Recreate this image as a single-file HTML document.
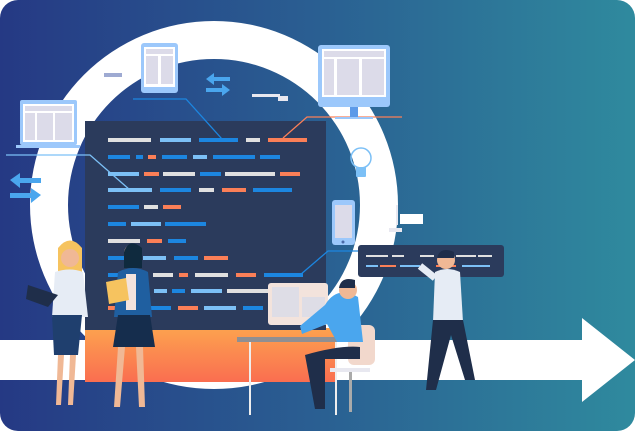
<!DOCTYPE html>
<html><head><meta charset="utf-8"><style>html,body{margin:0;padding:0;background:#fff}svg{display:block}</style></head>
<body>
<svg width="635" height="431" viewBox="0 0 635 431" xmlns="http://www.w3.org/2000/svg">
<defs>
<linearGradient id="bg" x1="0" x2="1" y1="0" y2="0"><stop offset="0" stop-color="#253984"/><stop offset="0.5" stop-color="#2a5f92"/><stop offset="1" stop-color="#2f8a9e"/></linearGradient>
<linearGradient id="or" x1="0" x2="0" y1="0" y2="1"><stop offset="0" stop-color="#fca24f"/><stop offset="1" stop-color="#fa6e50"/></linearGradient>
<clipPath id="c"><rect width="635" height="431" rx="18"/></clipPath>
</defs>
<g clip-path="url(#c)">
<rect width="635" height="431" fill="url(#bg)"/>
<path fill="#fff" fill-rule="evenodd" d="M30,205a184,184 0 1,0 368,0a184,184 0 1,0 -368,0zM68,205a146,146 0 1,0 292,0a146,146 0 1,0 -292,0z"/>
<!-- arrow band -->
<path fill="#fff" d="M0,340H582V318L635,360L582,402V380H0Z"/>
<!-- orange base -->
<rect x="85" y="328" width="250" height="54" fill="url(#or)"/>
<!-- code panel -->
<rect x="85" y="121" width="241" height="209" fill="#2b3b5c"/>
<g stroke-width="4">
<g stroke="#e0e0e0"><path d="M108 140h43M246 140h14M163 174h32M225 174h50M199 190h15M144 207h14M108 241h32M153 275h20M195 275h33M108 291h12M227 291h43"/></g>
<g stroke="#7cc0f6"><path d="M160 140h31M193 157h14M108 174h31M108 190h44M131 224h30M143 258h23M154 291h13M191 291h31M204 308h32"/></g>
<g stroke="#1c86e0"><path d="M199 140h39M108 157h22M136 157h7M162 157h25M213 157h42M260 157h20M200 174h21M160 190h31M253 190h39M108 207h31M108 224h18M165 224h41M168 241h18M108 258h17M174 258h24M108 275h12M264 275h39M172 291h13M149 308h22M243 308h20"/></g>
<g stroke="#fb7f57"><path d="M268 140h39M148 157h8M144 174h15M280 174h20M222 190h24M163 207h18M147 241h15M204 258h24M179 275h9M236 275h20M108 308h14M178 308h20"/></g>
</g>
<!-- connector lines -->
<g fill="none" stroke-width="1.3">
<path d="M133 99h53l36 40" stroke="#1c86e0"/>
<path d="M6 155h84l40 35" stroke="#7cc0f6"/>
<path d="M283 138l24-21h95" stroke="#fb7f57"/>
<path d="M300 275l28-24h30" stroke="#1c86e0"/>
</g>
<!-- tablet -->
<rect x="141" y="43" width="37" height="50" rx="3" fill="#9cc8fb"/><rect x="144" y="47" width="31" height="40" fill="#fff"/>
<rect x="146" y="49" width="27" height="5" fill="#dcdbe9"/><rect x="146" y="56" width="12" height="28" fill="#dcdbe9"/><rect x="161" y="56" width="12" height="28" fill="#dcdbe9"/>
<rect x="104" y="73" width="18" height="4" fill="#9eaad2"/>
<!-- monitor -->
<rect x="318" y="45" width="72" height="62" rx="3" fill="#9cc8fb"/><rect x="322" y="49" width="64" height="48" fill="#fff"/>
<rect x="324" y="51" width="60" height="6" fill="#dcdbe9"/><rect x="324" y="59" width="10" height="36" fill="#dcdbe9"/><rect x="337" y="59" width="22" height="36" fill="#dcdbe9"/><rect x="362" y="59" width="22" height="36" fill="#dcdbe9"/>
<rect x="350" y="107" width="8" height="10" fill="#5d9ae8"/><rect x="335" y="117" width="38" height="2" fill="#9cc8fb"/>
<!-- laptop -->
<rect x="20" y="100" width="57" height="45" rx="2" fill="#9cc8fb"/><rect x="23" y="104" width="51" height="38" fill="#fff"/>
<rect x="25" y="106" width="47" height="5" fill="#dcdbe9"/><rect x="25" y="113" width="10" height="27" fill="#dcdbe9"/><rect x="37" y="113" width="16" height="27" fill="#dcdbe9"/><rect x="55" y="113" width="17" height="27" fill="#dcdbe9"/>
<rect x="16" y="145" width="64" height="3" fill="#9cc8fb"/>
<!-- arrows -->
<g fill="#4aa6ee"><path d="M10 180l10-7v5h21v5H20v5z"/><path d="M41 195l-10-7v5H10v5h21v5z"/>
<path d="M206 79l8-6v4h16v4h-16v4z"/><path d="M230 90l-8-6v4h-16v4h16v4z"/></g>
<rect x="252" y="94" width="28" height="3" fill="#e8e8f0"/><rect x="278" y="96" width="10" height="5" fill="#e8e8f0"/>
<!-- bulb -->
<circle cx="361" cy="158" r="10" fill="none" stroke="#7cc0f6" stroke-width="1.5"/><rect x="356" y="167" width="10" height="10" rx="1" fill="#7cc0f6"/>
<!-- phone -->
<rect x="332" y="200" width="23" height="45" rx="3" fill="#9cc8fb"/><rect x="335" y="205" width="17" height="33" fill="#dcdbe9"/><circle cx="343" cy="242" r="1.5" fill="#4a6aa8"/>
<rect x="396" y="205" width="2" height="20" fill="#e8e8f0"/><rect x="400" y="214" width="23" height="10" fill="#fff"/><rect x="389" y="228" width="13" height="4" fill="#e8e8f0"/>
<!-- right code panel -->
<rect x="358" y="245" width="146" height="32" rx="3" fill="#2b3b5c"/>
<g stroke-width="2"><path d="M366 256h22M392 256h12M420 256h14M456 256h20M478 256h14" stroke="#e0e0e0"/><path d="M366 266h12M400 266h20M462 266h28" stroke="#7cc0f6"/><path d="M440 256h12M380 266h16M436 266h20" stroke="#fb7f57"/></g>
<!-- desk & monitor -->
<rect x="268" y="283" width="60" height="42" rx="3" fill="#f3e3dc"/><rect x="272" y="287" width="27" height="30" fill="#dedde6"/><rect x="302" y="297" width="23" height="20" fill="#dedde6"/>
<rect x="237" y="337" width="120" height="5" fill="#8f8f92"/><rect x="249" y="342" width="2" height="73" fill="#eee"/><rect x="335" y="342" width="2" height="73" fill="#eee"/>
<!-- seated man -->
<rect x="348" y="325" width="27" height="40" rx="6" fill="#f2d8cc"/>
<path d="M325 305q12-20 33-8l5 45h-26l-10-18l-25 10l-2-8z" fill="#4aa6ee"/>
<circle cx="348" cy="290" r="9" fill="#f0b895"/><path d="M339 288q2-12 16-8v8z" fill="#1f2e4a"/>
<path d="M305 355q35-10 55-8v12h-35v50h-10z" fill="#1f2e4a"/><rect x="330" y="368" width="40" height="4" fill="#e8e8f0"/><rect x="349" y="372" width="3" height="40" fill="#aaa"/>
<!-- standing man right -->
<circle cx="446" cy="260" r="9" fill="#f0b895"/><path d="M437 258q3-12 17-6v6z" fill="#1f2e4a"/>
<path d="M435 272q12-6 25 0l3 50h-30z" fill="#e6ecf5"/><path d="M433 320h30l12 60h-10l-14-45l-15 55h-10z" fill="#1f2e4a"/>
<path d="M435 278l-15-12" stroke="#e6ecf5" stroke-width="7"/>
<!-- women -->
<path d="M58 248q12-15 24 0v40h-24z" fill="#f6c35f"/><circle cx="70" cy="258" r="9" fill="#f0b895"/>
<path d="M55 272q15-5 28 0l5 45h-36z" fill="#e6ecf5"/><path d="M52 315h30l-4 40h-24z" fill="#1f3f6e"/>
<path d="M58 355h6l-3 50h-5zM70 355h6l-3 50h-5z" fill="#f0b895"/>
<path d="M28 285l30 10l-10 12l-22-8z" fill="#1f2e4a"/>
<circle cx="133" cy="253" r="9" fill="#f0b895"/><path d="M124 252q5-15 18-4v20h-18z" fill="#0f2a3e"/>
<path d="M118 272q15-8 30 0l4 45h-38z" fill="#1f5fa0"/><path d="M126 274h10v36h-10z" fill="#f2e3dd"/>
<path d="M118 315h32l5 32h-42z" fill="#152d4d"/><path d="M118 347h7l-5 60h-6zM136 347h7l2 60h-6z" fill="#f0b895"/>
<path d="M106 282l20-4l3 22l-20 4z" fill="#f6c35f"/>
</g>
</svg>
</body></html>
